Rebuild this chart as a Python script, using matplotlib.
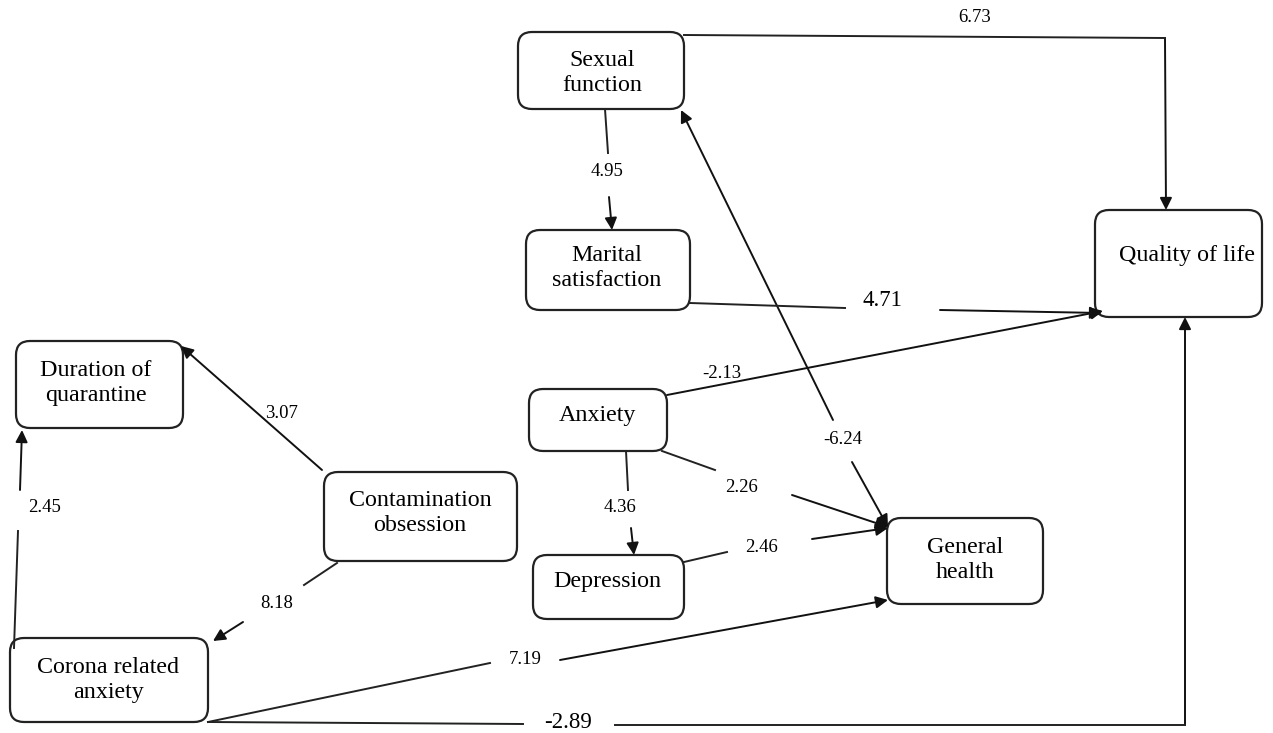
import matplotlib.pyplot as plt
from matplotlib.patches import FancyBboxPatch, FancyArrowPatch

# -------------------- DATOS --------------------
node_names = ["Sexual\nfunction", "Marital\nsatisfaction", "Quality of life",
              "Duration of\nquarantine", "Anxiety", "Contamination\nobsession",
              "Depression", "General\nhealth", "Corona related\nanxiety"]

# (origen, destino) de cada camino y su coeficiente
path_pairs = [(0, 2), (0, 1), (1, 2), (7, 0), (4, 2), (4, 6), (4, 7), (6, 7),
              (5, 3), (5, 8), (8, 3), (8, 7), (8, 2)]
path_coefs = ["6.73", "4.95", "4.71", "-6.24", "-2.13", "4.36", "2.26", "2.46",
              "3.07", "8.18", "2.45", "7.19", "-2.89"]

# -------------------- LAYOUT (pixeles) --------------------
# caja: x0, y0, x1, y1 ; texto: x, y
node_boxes = [(518, 32, 684, 109), (526, 230, 690, 310), (1095, 210, 1262, 317),
              (16, 341, 183, 428), (529, 389, 667, 451), (324, 472, 517, 561),
              (533, 555, 684, 619), (887, 518, 1043, 604), (10, 638, 208, 722)]
node_text = [(602, 73), (607, 268), (1187, 255), (96, 383), (597, 415),
             (420, 513), (607, 582), (965, 560), (108, 680)]

# por camino: tramo sin flecha, tramo con flecha, posición del número, tamaño
path_lines = [
    [(684, 35), (1165, 38)],
    [(605, 109), (608, 153)],
    [(690, 303), (845, 308)],
    [],
    [],
    [(626, 451), (628, 490)],
    [(662, 451), (715, 470)],
    [(684, 562), (727, 552)],
    [],
    [(337, 563), (304, 585)],
    [(14, 648), (18, 531)],
    [(208, 722), (490, 663)],
    [(208, 722), (523, 724)],
    ]
path_arrows = [
    [((1165, 38), (1166, 210))],
    [((609, 197), (612, 230))],
    [((940, 310), (1102, 313))],
    [((833, 420), (681, 110)), ((852, 462), (888, 527))],
    [((667, 395), (1103, 311))],
    [((631, 528), (634, 555))],
    [((792, 495), (888, 527))],
    [((812, 539), (888, 528))],
    [((322, 470), (181, 346))],
    [((243, 622), (213, 641))],
    [((20, 490), (22, 430))],
    [((560, 660), (888, 600))],
    [((615, 725), (1185, 725), (1185, 317))],
]
label_pos = [(975, 18), (607, 172), (882, 300), (843, 440), (722, 373),
             (620, 508), (742, 487), (762, 548), (282, 413), (277, 604),
             (45, 508), (525, 659), (568, 722)]
label_size = [13.5, 13.5, 16.5, 13.5, 13.5, 13.5, 13.5, 13.5, 13.5, 13.5, 13.5,
              13.5, 16.5]

# -------------------- FIGURA --------------------
plt.rcParams['font.family'] = ['Liberation Serif', 'DejaVu Serif']
fig = plt.figure(figsize=(12.73, 7.33), dpi=100)
ax = fig.add_axes([0, 0, 1, 1])
ax.set_xlim(0, 1273)
ax.set_ylim(733, 0)
ax.axis('off')

r = 14
for (x0, y0, x1, y1), (tx, ty), name in zip(node_boxes, node_text, node_names):
    box = FancyBboxPatch((x0 + r, y0 + r), x1 - x0 - 2 * r, y1 - y0 - 2 * r,
                         boxstyle=f"round,pad={r}", fc='white', ec='#222222', lw=1.6)
    ax.add_patch(box)
    ax.text(tx, ty, name, ha='center', va='center', fontsize=17.3, linespacing=1.3)

for lines, arrows, (lx, ly), fs, coef in zip(path_lines, path_arrows, label_pos,
                                             label_size, path_coefs):
    if lines:
        ax.plot([p[0] for p in lines], [p[1] for p in lines], color='#222222', lw=1.4)
    for seg in arrows:
        # tramos previos sin punta, el último con punta
        if len(seg) > 2:
            ax.plot([p[0] for p in seg[:-1]], [p[1] for p in seg[:-1]],
                    color='#222222', lw=1.4)
        ax.add_patch(FancyArrowPatch(seg[-2], seg[-1], arrowstyle='-|>',
                                     mutation_scale=18, lw=1.4, color='#111111',
                                     shrinkA=0, shrinkB=0))
    ax.text(lx, ly, coef, ha='center', va='center', fontsize=fs)

fig.savefig("out.png", dpi=100, facecolor='white')
